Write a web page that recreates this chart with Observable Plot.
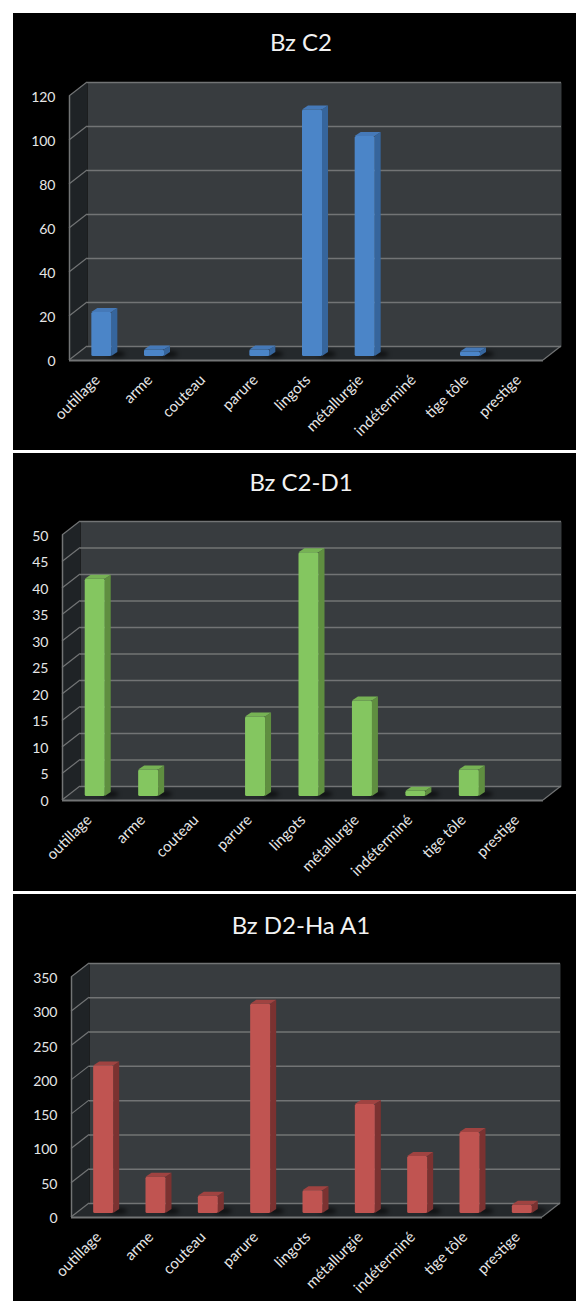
<!DOCTYPE html>
<html lang="fr">
<head>
<meta charset="utf-8">
<script src="https://cdn.jsdelivr.net/npm/d3@7"></script>
<script src="https://cdn.jsdelivr.net/npm/@observablehq/plot@0.6"></script>
<style>
html,body{margin:0;padding:0;background:#fff;overflow:hidden;height:1301px}
#charts{padding:13px 0 0 13px}
.panel{width:563px;background:#000;margin-bottom:3px}
.panel svg{display:block}
.title{color:#f2f2f2;font:24px Lato,sans-serif;text-align:center;padding-left:13px;box-sizing:border-box}
</style>
</head>
<body>
<div id="charts"></div>
<script>
const categories = ["outillage","arme","couteau","parure","lingots","métallurgie","indéterminé","tige tôle","prestige"];
const valuesC2   = [20,3,0,3,112,100,0,2,0];
const valuesC2D1 = [41,5,0,15,46,18,1,5,0];
const valuesD2   = [215,53,25,305,33,159,83,118,12];
const ticksC2   = [0,20,40,60,80,100,120];
const ticksC2D1 = [0,5,10,15,20,25,30,35,40,45,50];
const ticksD2   = [0,50,100,150,200,250,300,350];

const panels = [
  {title:"Bz C2", values:valuesC2, ticks:ticksC2, titleH:58, height:379, mt:25, mb:90, ml:56, mr:33, labelDx:1.5,
   front:"#4b85c8", side:"#36659c", top:"#4579b8"},
  {title:"Bz C2-D1", values:valuesC2D1, ticks:ticksC2D1, titleH:58, height:380, mt:24, mb:91, ml:49, mr:33, labelDx:0,
   front:"#84c660", side:"#5f8e40", top:"#76b254"},
  {title:"Bz D2-Ha A1", values:valuesD2, ticks:ticksD2, titleH:62, height:345, mt:21, mb:84, ml:58, mr:34, labelDx:1,
   front:"#c05451", side:"#7b3231", top:"#a04341"}
];

const wall = {dx:18, dy:-14};
const box  = {dx:6, dy:-4, w:20};
const line = "#727475";
const plotWidth = 563;

function poly(g, pts, attrs){
  const p = g.append("polygon").attr("points", pts.map(d => d.join(",")).join(" "));
  for (const k in attrs) p.attr(k, attrs[k]);
  return p;
}

// slanted walls: left side and floor, placed through the chart's scales
function walls(p, bw){
  return (index, {x, y}) => {
    const g = d3.create("svg:g");
    const L = x(categories[0]), R = x(categories[categories.length-1]) + bw;
    const y0 = y(0), yT = y(p.ticks[p.ticks.length-1]);
    poly(g, [[L,y0],[L+wall.dx,y0+wall.dy],[L+wall.dx,yT+wall.dy],[L,yT]], {fill:"#1f2326"});
    poly(g, [[L,y0],[L+wall.dx,y0+wall.dy],[R+wall.dx,y0+wall.dy],[R,y0]], {fill:"#25292c"});
    for (const t of p.ticks) {
      g.append("line").attr("x1",L).attr("y1",y(t)).attr("x2",L+wall.dx).attr("y2",y(t)+wall.dy)
        .attr("stroke",line).attr("stroke-width",1.2);
    }
    g.append("line").attr("x1",R).attr("y1",y0).attr("x2",R+wall.dx).attr("y2",y0+wall.dy)
      .attr("stroke",line).attr("stroke-width",1.2);
    return g.node();
  };
}

// base shadow, side face and top face of each bar
function boxes(p, rows, bw){
  return (index, {x, y}) => {
    const g = d3.create("svg:g");
    for (const d of rows) {
      const xl = x(d.category) + (bw - box.w)/2 + box.dx, xr = xl + box.w;
      const yb = y(0) + box.dy, yt = y(d.value) + box.dy;
      g.append("ellipse").attr("cx",xr+5).attr("cy",yb-2).attr("rx",9).attr("ry",3)
        .attr("fill","#000").attr("opacity",0.6).style("filter","blur(2px)");
      poly(g, [[xr,yt],[xr+box.dx,yt+box.dy],[xr+box.dx,yb+box.dy],[xr,yb]], {fill:p.side});
      poly(g, [[xl,yt],[xl+box.dx,yt+box.dy],[xr+box.dx,yt+box.dy],[xr,yt]], {fill:p.top});
    }
    return g.node();
  };
}

const root = document.getElementById("charts");
for (const p of panels) {
  const rows = categories.map((category,i) => ({category, value:p.values[i]})).filter(d => d.value > 0);
  const bw = (plotWidth - p.ml - p.mr) / categories.length;
  const barInset = (bw - box.w) / 2;
  const panel = root.appendChild(document.createElement("div"));
  panel.className = "panel";
  const title = panel.appendChild(document.createElement("div"));
  title.className = "title";
  title.textContent = p.title;
  title.style.height = title.style.lineHeight = p.titleH + "px";
  panel.appendChild(Plot.plot({
    width:plotWidth, height:p.height,
    marginTop:p.mt, marginBottom:p.mb, marginLeft:p.ml, marginRight:p.mr,
    style:{background:"#000", color:"#e6e6e6", fontFamily:"Lato,sans-serif", fontSize:"14px", overflow:"visible"},
    x:{type:"band", domain:categories, padding:0, round:false, label:null},
    y:{domain:[0,p.ticks[p.ticks.length-1]], label:null},
    marks:[
      Plot.frame({fill:"#383c3f", stroke:"none", dx:wall.dx, dy:wall.dy}),
      walls(p, bw),
      Plot.ruleY(p.ticks, {stroke:line, strokeWidth:1.5, strokeOpacity:1, dx:wall.dx, dy:wall.dy}),
      Plot.ruleX([categories[0]], {stroke:line, strokeWidth:1.5, y1:0, y2:p.ticks[p.ticks.length-1], dx:-bw/2}),
      Plot.ruleY([0], {stroke:line, strokeWidth:2}),
      boxes(p, rows, bw),
      Plot.barY(rows, {x:"category", y:"value", fill:p.front, insetLeft:barInset, insetRight:barInset, dx:box.dx, dy:box.dy, rx:1.5}),
      Plot.axisY({ticks:p.ticks, tickSize:0, tickPadding:14, dy:1, tickFormat:d3.format("d"), label:null, stroke:"none"}),
      Plot.axisX({tickSize:0, tickRotate:-45, tickPadding:17, dx:p.labelDx, label:null, stroke:"none", fontSize:15})
    ]
  }));
}
</script>
</body>
</html>
